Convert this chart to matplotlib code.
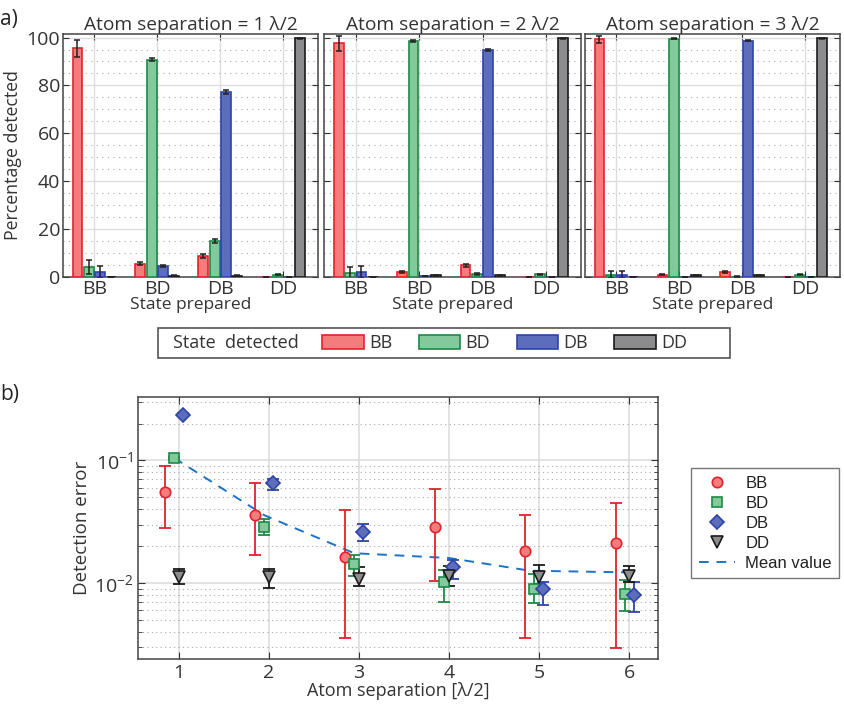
import numpy as np
import matplotlib.pyplot as plt
from matplotlib.ticker import MultipleLocator, LogLocator, NullFormatter
from matplotlib.patches import Rectangle

plt.rcParams['font.family'] = ['Open Sans', 'DejaVu Sans']
plt.rcParams['mathtext.fontset'] = 'custom'
plt.rcParams['mathtext.rm'] = 'Open Sans'
plt.rcParams['mathtext.it'] = 'Open Sans:italic'
plt.rcParams['xtick.direction'] = 'in'
plt.rcParams['ytick.direction'] = 'in'

# ---- panel a data: percentage detected, one list per detected state, over prepared states
states = ['BB', 'BD', 'DB', 'DD']
separations = [1, 2, 3]

pct_sep1 = {'BB': [95.5, 5.6, 8.9, 0.1],
            'BD': [4.2, 90.7, 15.1, 1.0],
            'DB': [2.1, 4.7, 77.4, 0.2],
            'DD': [0.1, 0.6, 0.6, 99.6]}
err_sep1 = {'BB': [3.5, 0.6, 0.8, 0.0],
            'BD': [3.0, 0.7, 1.0, 0.2],
            'DB': [2.6, 0.5, 0.8, 0.0],
            'DD': [0.0, 0.2, 0.2, 0.2]}

pct_sep2 = {'BB': [97.6, 2.1, 4.9, 0.1],
            'BD': [1.8, 98.5, 1.4, 1.3],
            'DB': [2.1, 0.5, 94.8, 0.2],
            'DD': [0.1, 0.7, 0.7, 99.6]}
err_sep2 = {'BB': [3.1, 0.4, 0.7, 0.0],
            'BD': [2.6, 0.3, 0.3, 0.2],
            'DB': [2.6, 0.1, 0.6, 0.0],
            'DD': [0.0, 0.2, 0.2, 0.2]}

pct_sep3 = {'BB': [99.2, 1.1, 2.1, 0.1],
            'BD': [1.1, 99.5, 0.2, 1.1],
            'DB': [1.0, 0.1, 98.7, 0.2],
            'DD': [0.1, 0.7, 0.7, 99.7]}
err_sep3 = {'BB': [1.5, 0.3, 0.5, 0.0],
            'BD': [1.5, 0.1, 0.1, 0.2],
            'DB': [1.5, 0.1, 0.3, 0.0],
            'DD': [0.0, 0.2, 0.2, 0.2]}

# ---- panel b data: detection error vs atom separation
sep_b = [1, 2, 3, 4, 5, 6]
err_BB = [0.0553, 0.0358, 0.0163, 0.0286, 0.0183, 0.0211]
err_BB_lo = [0.0282, 0.0170, 0.00353, 0.01045, 0.00358, 0.00293]
err_BB_hi = [0.0894, 0.0659, 0.0393, 0.0582, 0.0362, 0.0446]
err_BD = [0.105, 0.0288, 0.0144, 0.0102, 0.0090, 0.0082]
err_BD_lo = [0.103, 0.0245, 0.01146, 0.00702, 0.00689, 0.0059]
err_BD_hi = [0.107, 0.0330, 0.0170, 0.0128, 0.01175, 0.01058]
err_DB = [0.236, 0.0655, 0.0262, 0.0135, 0.0090, 0.0080]
err_DB_lo = [0.230, 0.0578, 0.0222, 0.01084, 0.00667, 0.0058]
err_DB_hi = [0.242, 0.0706, 0.0304, 0.01546, 0.0102, 0.0102]
err_DD = [0.0111, 0.0111, 0.0108, 0.0113, 0.0111, 0.0113]
err_DD_lo = [0.00975, 0.0091, 0.0094, 0.0095, 0.00986, 0.0101]
err_DD_hi = [0.0130, 0.0130, 0.0135, 0.01364, 0.01406, 0.01364]
mean_x = [0.95, 1.95, 2.95, 4.0, 4.9, 6.0]
mean_val = [0.105, 0.0358, 0.0175, 0.0160, 0.0126, 0.0122]

face = {'BB': '#f47c7c', 'BD': '#82c99b', 'DB': '#5b6dbb', 'DD': '#8c8c8e'}
edge = {'BB': '#e2232d', 'BD': '#1d8a45', 'DB': '#2e44a8', 'DD': '#1a1a1a'}
markers = {'BB': 'o', 'BD': 's', 'DB': 'D', 'DD': 'v'}
msizes = {'BB': 7.5, 'BD': 6.5, 'DB': 7, 'DD': 8}
txt = '#333333'

fig = plt.figure(figsize=(8.44, 7.07), dpi=100)

# ---------------- panel a ----------------
axes_a = [fig.add_axes([0.0746, 0.608, 0.302, 0.344]),
          fig.add_axes([0.3839, 0.608, 0.3045, 0.344]),
          fig.add_axes([0.6931, 0.608, 0.302, 0.344])]
pcts = [pct_sep1, pct_sep2, pct_sep3]
errs = [err_sep1, err_sep2, err_sep3]
offsets = [-0.27, -0.09, 0.09, 0.27]
xpos = np.arange(1, 5)
bar_handles = []
for i, ax in enumerate(axes_a):
    for j, s in enumerate(states):
        b = ax.bar(xpos + offsets[j], pcts[i][s], width=0.155, color=face[s],
                   edgecolor=edge[s], linewidth=1.2, zorder=3,
                   yerr=errs[i][s],
                   error_kw=dict(ecolor='#222222', elinewidth=1.1, capsize=2.5, capthick=1.1, zorder=4))
        if i == 0:
            bar_handles.append(b)
    ax.set_xlim(0.5, 4.55)
    ax.set_ylim(0, 101.5)
    ax.set_xticks(xpos)
    ax.set_xticklabels(states)
    ax.set_yticks([0, 20, 40, 60, 80, 100])
    ax.yaxis.set_minor_locator(MultipleLocator(5))
    ax.tick_params(axis='both', which='major', labelsize=14, colors=txt, length=4,
                   top=True, right=True, pad=2)
    ax.tick_params(axis='y', which='minor', length=0)
    ax.grid(True, which='major', color='#dddddd', linewidth=1.0, zorder=0)
    ax.grid(True, which='minor', axis='y', color='#aaaaaa', linestyle=(0, (1, 4)), linewidth=0.8, zorder=0)
    ax.set_axisbelow(True)
    for sp in ax.spines.values():
        sp.set_color('#444444')
        sp.set_linewidth(1.1)
    ax.set_title('Atom separation = %d λ/2' % separations[i], fontsize=13.8, color=txt, pad=3)
    ax.set_xlabel('State prepared', fontsize=12.5, color=txt, labelpad=-1)
    if i > 0:
        ax.set_yticklabels([])
axes_a[0].set_ylabel('Percentage detected', fontsize=12.8, color=txt, labelpad=3)

# legend box for panel a
fig.patches.append(Rectangle((0.187, 0.494), 0.678, 0.042, transform=fig.transFigure,
                             facecolor='white', edgecolor='#555555', linewidth=1.2))
fig.text(0.205, 0.515, 'State  detected', fontsize=13, color=txt, va='center')
fig.legend(bar_handles, states, ncol=4, loc='center left', bbox_to_anchor=(0.382, 0.515),
           frameon=False, fontsize=13, handlelength=2.3, handleheight=0.8,
           handletextpad=0.3, columnspacing=1.45, labelcolor=txt, borderaxespad=0, borderpad=0)

fig.text(0.0, 0.972, 'a)', fontsize=15, color='#222222', va='center')
fig.text(0.0, 0.442, 'b)', fontsize=15, color='#222222', va='center')

# ---------------- panel b ----------------
axb = fig.add_axes([0.1635, 0.068, 0.616, 0.3705])
series = [('BB', err_BB, err_BB_lo, err_BB_hi, -0.15),
          ('BD', err_BD, err_BD_lo, err_BD_hi, -0.05),
          ('DB', err_DB, err_DB_lo, err_DB_hi, 0.05),
          ('DD', err_DD, err_DD_lo, err_DD_hi, 0.0)]
b_handles = []
for s, y, lo, hi, off in series:
    y = np.array(y)
    x = np.array(sep_b) + off
    yerr = [y - np.array(lo), np.array(hi) - y]
    axb.errorbar(x, y, yerr=yerr, fmt='none', ecolor=edge[s], elinewidth=1.3,
                 capsize=4, capthick=1.3, zorder=3)
    h, = axb.plot(x, y, linestyle='none', marker=markers[s], markersize=msizes[s],
                  markerfacecolor=face[s], markeredgecolor=edge[s], markeredgewidth=1.2,
                  zorder=4, label=s)
    b_handles.append(h)
mh, = axb.plot(mean_x, mean_val, linestyle=(0, (5, 4)), color='#1a73c9', linewidth=1.4,
               zorder=2, label='Mean value')
b_handles.append(mh)

axb.set_yscale('log')
axb.set_xlim(0.55, 6.32)
axb.set_ylim(0.0024, 0.33)
axb.set_xticks(sep_b)
axb.set_yticks([0.01, 0.1])
axb.set_yticklabels([r'$10^{-2}$', r'$10^{-1}$'])
axb.yaxis.set_minor_locator(LogLocator(base=10, subs=np.arange(2, 10)))
axb.yaxis.set_minor_formatter(NullFormatter())
axb.tick_params(axis='both', which='major', labelsize=14, colors=txt, length=5,
                top=True, right=True)
axb.tick_params(axis='y', which='minor', length=3, right=True, colors=txt)
axb.grid(True, which='major', color='#dddddd', linewidth=1.2, zorder=0)
axb.grid(True, which='minor', axis='y', color='#aaaaaa', linestyle=(0, (1, 3)), linewidth=0.8, zorder=0)
axb.set_axisbelow(True)
for sp in axb.spines.values():
    sp.set_color('#444444')
    sp.set_linewidth(1.1)
axb.set_xlabel('Atom separation [λ/2]', fontsize=13, color=txt, labelpad=0)
axb.set_ylabel('Detection error', fontsize=13.5, color=txt, labelpad=2)

fig.legend(handles=b_handles, loc='upper left', bbox_to_anchor=(0.819, 0.338),
           frameon=True, fancybox=False, edgecolor='#555555', borderaxespad=0,
           prop={'family': ['Liberation Sans'], 'size': 12}, handlelength=2.2,
           handletextpad=0.6, borderpad=0.45, labelspacing=0.3, labelcolor='#222222')

fig.savefig('out.png', dpi=100)
